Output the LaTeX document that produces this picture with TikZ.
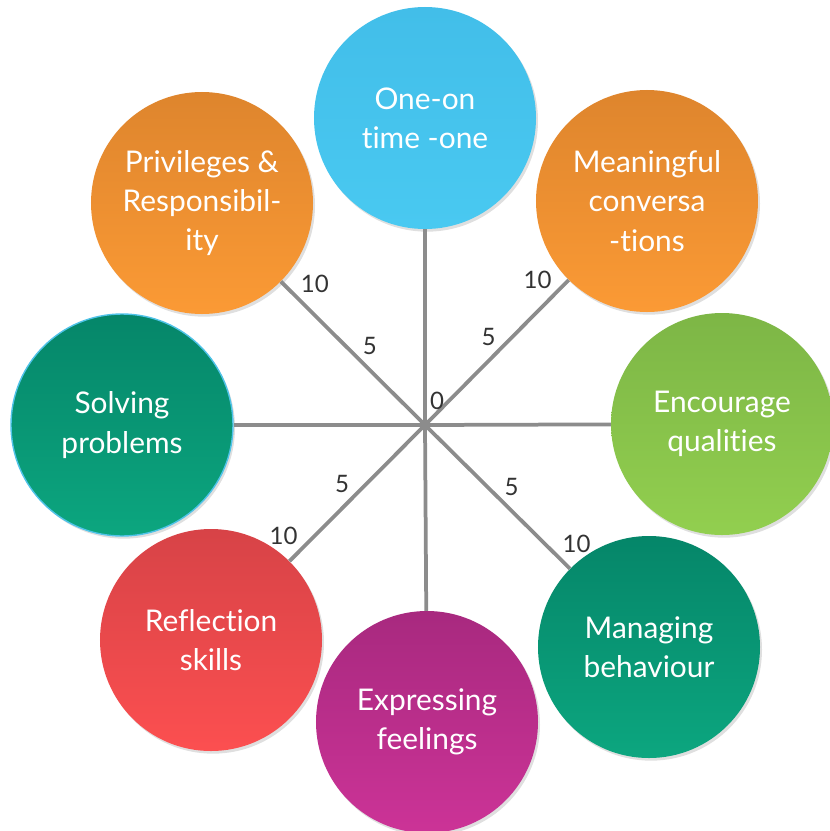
\documentclass[tikz,border=0pt]{standalone}
\usepackage{fontspec}
\setmainfont{Lato}[Ligatures=NoCommon]
\usetikzlibrary{shadows}

\begin{document}
\begin{tikzpicture}[x=0.03cm, y=-0.03cm,
    bubble/.style={circle, minimum size=6.66cm, inner sep=0pt, align=center,
        text=white, font=\fontsize{25.5}{33.5}\selectfont,
        drop shadow={opacity=0.25, shadow xshift=0.06cm, shadow yshift=-0.08cm}},
    spoke/.style={draw=spokecolor, line width=3.2pt},
    scalemark/.style={text=markcolor, font=\fontsize{20.5}{20.5}\selectfont, inner sep=2pt}]
    % Define colors
    \definecolor{bluetop}{RGB}{66,190,233}
    \definecolor{bluebot}{RGB}{73,201,241}
    \definecolor{orangetop}{RGB}{222,133,45}
    \definecolor{orangebot}{RGB}{251,154,53}
    \definecolor{greentop}{RGB}{125,182,70}
    \definecolor{greenbot}{RGB}{146,207,79}
    \definecolor{tealtop}{RGB}{5,134,105}
    \definecolor{tealbot}{RGB}{12,166,127}
    \definecolor{magtop}{RGB}{168,41,127}
    \definecolor{magbot}{RGB}{204,51,151}
    \definecolor{redtop}{RGB}{215,67,71}
    \definecolor{redbot}{RGB}{252,79,80}
    \definecolor{solveborder}{RGB}{79,195,232}
    \definecolor{spokecolor}{RGB}{140,140,140}
    \definecolor{markcolor}{RGB}{51,51,51}

    \useasboundingbox (0,0) rectangle (829,831);

    % Circles
    \node[bubble, top color=bluetop, bottom color=bluebot] (oneone) at (425,118) {One-on\\time -one};
    \node[bubble, top color=orangetop, bottom color=orangebot] (meaning) at (647,201) {Meaningful\\conversa\\-tions};
    \node[bubble, top color=greentop, bottom color=greenbot] (encourage) at (722,424) {Encourage\\qualities};
    \node[bubble, top color=tealtop, bottom color=tealbot] (managing) at (649,647) {Managing\\behaviour};
    \node[bubble, top color=magtop, bottom color=magbot] (expressing) at (427,722) {Expressing\\feelings};
    \node[bubble, top color=redtop, bottom color=redbot] (reflection) at (211,640) {Reflection\\skills};
    \node[bubble, top color=tealtop, bottom color=tealbot, draw=solveborder, line width=1.2pt] (solving) at (122,425) {Solving\\problems};
    \node[bubble, top color=orangetop, bottom color=orangebot] (privileges) at (202,203) {Privileges \&\\Responsibil-\\ity};

    % Spokes
    \coordinate (hub) at (425,425);
    \draw[spoke] (hub) -- (oneone);
    \draw[spoke] (hub) -- (encourage);
    \draw[spoke] (hub) -- (expressing);
    \draw[spoke] (hub) -- (solving);
    \draw[spoke] (hub) -- (privileges)
        node[scalemark, pos=0.46, above right] {5}
        node[scalemark, pos=0.89, above right] {10};
    \draw[spoke] (hub) -- (meaning)
        node[scalemark, pos=0.52, above left] {5}
        node[scalemark, pos=0.91, above left] {10};
    \draw[spoke] (hub) -- (reflection)
        node[scalemark, pos=0.53, above left] {5}
        node[scalemark, pos=0.91, above left] {10};
    \draw[spoke] (hub) -- (managing)
        node[scalemark, pos=0.52, above right] {5}
        node[scalemark, pos=0.92, above right] {10};
    \node[scalemark] (zero) at (437,401) {0};

\end{tikzpicture}
\end{document}
